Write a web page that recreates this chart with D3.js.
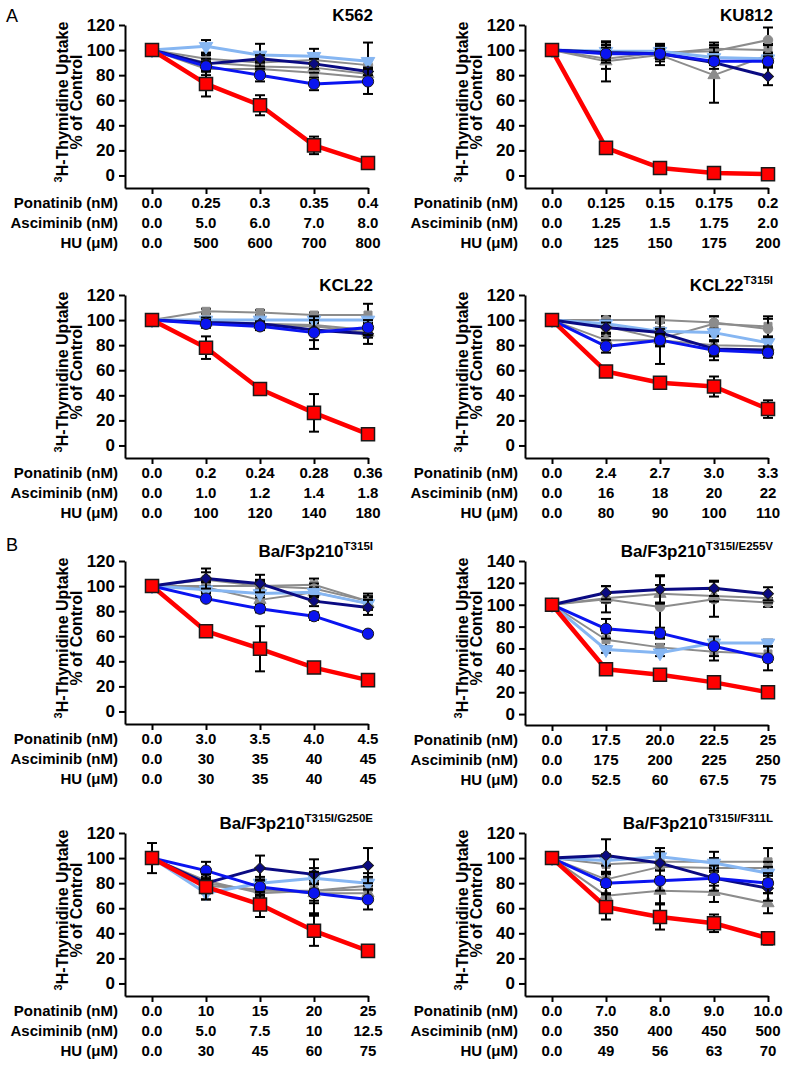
<!DOCTYPE html>
<html>
<head>
  <meta charset="UTF-8">
  <title>Thymidine uptake</title>
  <script src="https://d3js.org/d3.v7.min.js"></script>
  <style>
    body { margin: 0; background: white; }
    svg { font-family: "Liberation Sans", Arial, sans-serif; }
    .axis path, .axis line { stroke: black; stroke-width: 2px; }
    .axis text { font-size: 17px; font-weight: bold; fill: black; }
    .row-label, .dose { font-size: 15px; font-weight: bold; }
  </style>
</head>
<body>
  <svg></svg>
  <script>
    // series order = drawing order (grey combos first, red triple combo last)
    const seriesNames = ["Ponatinib + Asciminib", "Ponatinib + HU", "Asciminib + HU",
                         "HU", "Asciminib", "Ponatinib", "Ponatinib + Asciminib + HU"];
    const rowLabels = ["Ponatinib (nM)", "Asciminib (nM)", "HU (μM)"];

    // K562
    const k562Doses = [["0.0","0.25","0.3","0.35","0.4"], ["0.0","5.0","6.0","7.0","8.0"], ["0.0","500","600","700","800"]];
    const k562Mean = [[100,85,85,82,78],[100,93,90,92,88],[100,90,87,86,81],[100,103,96,95,91],[100,89,93,89,83],[100,87,80,73,75],[100,73,56,24,10]];
    const k562Err  = [[0,5,4,6,4],[0,4,5,5,5],[0,6,4,4,4],[0,5,9,6,15],[0,4,3,4,3],[0,4,5,5,10],[0,10,8,7,2]];

    // KU812
    const ku812Doses = [["0.0","0.125","0.15","0.175","0.2"], ["0.0","1.25","1.5","1.75","2.0"], ["0.0","125","150","175","200"]];
    const ku812Mean = [[100,98,97,101,100],[100,93,98,99,108],[100,91,96,80,96],[100,99,99,94,93],[100,98,97,90,79],[100,97,97,91,91],[100,22,6,2,1]];
    const ku812Err  = [[0,6,6,5,5],[0,8,5,5,10],[0,16,8,22,8],[0,5,6,4,4],[0,8,3,5,7],[0,5,4,3,4],[0,2,1,1,1]];

    // KCL22
    const kcl22Doses = [["0.0","0.2","0.24","0.28","0.36"], ["0.0","1.0","1.2","1.4","1.8"], ["0.0","100","120","140","180"]];
    const kcl22Mean = [[100,107,106,104,104],[100,99,97,96,92],[100,98,96,95,90],[100,100,100,100,100],[100,98,97,92,89],[100,97,95,90,94],[100,78,45,26,9]];
    const kcl22Err  = [[0,2,2,2,9],[0,3,3,3,5],[0,3,3,3,4],[0,2,2,2,2],[0,4,2,8,8],[0,3,3,13,6],[0,9,2,15,1]];

    // KCL22 T315I
    const kclMutDoses = [["0.0","2.4","2.7","3.0","3.3"], ["0.0","16","18","20","22"], ["0.0","80","90","100","110"]];
    const kclMutMean = [[100,95,85,97,95],[100,100,100,98,93],[100,84,84,80,79],[100,97,91,90,82],[100,94,90,77,76],[100,79,84,76,74],[100,59,50,47,29]];
    const kclMutErr  = [[0,8,5,6,8],[0,3,2,5,8],[0,5,19,8,5],[0,3,3,3,4],[0,4,3,6,3],[0,5,5,8,4],[0,4,2,8,7]];

    // Ba/F3p210 T315I
    const t315iDoses = [["0.0","3.0","3.5","4.0","4.5"], ["0.0","30","35","40","45"], ["0.0","30","35","40","45"]];
    const t315iMean = [[100,105,100,101,88],[100,100,100,98,88],[100,99,89,95,86],[100,97,94,95,86],[100,106,102,88,83],[100,90,82,76,62],[100,64,50,35,25]];
    const t315iErr  = [[0,6,5,5,6],[0,4,4,4,4],[0,4,4,4,5],[0,3,3,3,3],[0,8,7,4,6],[0,2,3,3,2],[0,4,18,4,3]];

    // Ba/F3p210 T315I/E255V
    const e255vDoses = [["0.0","17.5","20.0","22.5","25"], ["0.0","175","200","225","250"], ["0.0","52.5","60","67.5","75"]];
    const e255vMean = [[100,68,61,57,55],[100,105,98,105,102],[100,106,110,108,106],[100,59,56,65,65],[100,111,114,115,110],[100,78,74,62,51],[100,41,36,29,20]];
    const e255vErr  = [[0,6,3,8,7],[0,12,28,16,4],[0,4,8,5,4],[0,3,3,3,3],[0,6,13,7,6],[0,9,5,9,11],[0,5,1,1,1]];

    // Ba/F3p210 T315I/G250E
    const g250eDoses = [["0.0","10","15","20","25"], ["0.0","5.0","7.5","10","12.5"], ["0.0","30","45","60","75"]];
    const g250eMean = [[100,80,74,74,78],[100,82,72,74,75],[100,78,75,72,72],[100,72,80,84,80],[100,80,92,87,94],[100,90,77,72,67],[100,77,63,42,26]];
    const g250eErr  = [[0,5,5,8,10],[0,6,6,18,8],[0,6,5,8,6],[0,5,5,5,5],[0,8,10,12,14],[0,7,6,17,8],[12,10,10,12,2]];

    // Ba/F3p210 T315I/F311L
    const f311lDoses = [["0.0","7.0","8.0","9.0","10.0"], ["0.0","350","400","450","500"], ["0.0","49","56","63","70"]];
    const f311lMean = [[100,95,97,97,97],[100,83,93,92,92],[100,70,74,73,64],[100,98,101,96,88],[100,102,96,84,76],[100,80,82,84,80],[100,61,53,48,36]];
    const f311lErr  = [[0,8,6,8,11],[0,6,8,6,5],[0,8,10,8,8],[0,4,4,4,5],[0,13,12,10,10],[0,8,8,6,8],[3,10,10,7,5]];

    const yMaxes = [120, 120, 120, 120, 120, 140, 120, 120];

    // styling per series
    const colors = ["#8c8c8c", "#8c8c8c", "#8c8c8c", "#86b6f2", "#0a0a82", "#0a14f0", "#ff0000"];
    const shapes = ["square", "circle", "triangle", "triangleDown", "diamond", "circle", "square"];
    const sizes  = [64, 70, 64, 80, 60, 100, 170];
    const lineW  = [2, 2, 2, 3, 3, 3, 4.5];

    const panels = [
      { title: "K562", sup: "", doses: k562Doses, mean: k562Mean, err: k562Err },
      { title: "KU812", sup: "", doses: ku812Doses, mean: ku812Mean, err: ku812Err },
      { title: "KCL22", sup: "", doses: kcl22Doses, mean: kcl22Mean, err: kcl22Err },
      { title: "KCL22", sup: "T315I", doses: kclMutDoses, mean: kclMutMean, err: kclMutErr },
      { title: "Ba/F3p210", sup: "T315I", doses: t315iDoses, mean: t315iMean, err: t315iErr },
      { title: "Ba/F3p210", sup: "T315I/E255V", doses: e255vDoses, mean: e255vMean, err: e255vErr },
      { title: "Ba/F3p210", sup: "T315I/G250E", doses: g250eDoses, mean: g250eMean, err: g250eErr },
      { title: "Ba/F3p210", sup: "T315I/F311L", doses: f311lDoses, mean: f311lMean, err: f311lErr }
    ];
    panels.forEach((p, i) => p.yMax = yMaxes[i]);

    const colX = [125, 525];
    const rowY = [25, 295, 561, 833];

    const svg = d3.select("svg").attr("width", 794).attr("height", 1065);

    svg.append("text").attr("x", 6).attr("y", 22).style("font-size", "18px").text("A");
    svg.append("text").attr("x", 6).attr("y", 551).style("font-size", "18px").text("B");

    function symbolFor(shape, size) {
      if (shape === "square" || shape === "diamond") return d3.symbol(d3.symbolSquare, size)();
      if (shape === "circle") return d3.symbol(d3.symbolCircle, size)();
      return d3.symbol(d3.symbolTriangle, size)();
    }

    panels.forEach((p, pi) => {
      const ox = colX[pi % 2], oy = rowY[Math.floor(pi / 2)];
      const g = svg.append("g").attr("transform", `translate(${ox},${oy})`);
      const h = p.yMax === 140 ? 164 : 163;

      const x = d3.scaleLinear().domain([-0.5, 4]).range([0, 243]);
      const y = d3.scaleLinear().domain([-10, p.yMax]).range([h, 0]);

      g.append("g").attr("class", "axis")
        .call(d3.axisLeft(y).tickValues(d3.range(0, p.yMax + 1, 20)).tickSize(6).tickSizeOuter(0).tickPadding(4));
      g.append("g").attr("class", "axis").attr("transform", `translate(0,${h})`)
        .call(d3.axisBottom(x).tickValues([0, 1, 2, 3, 4]).tickSize(6).tickSizeOuter(0).tickFormat(""));

      // y axis title
      const yt = g.append("g").attr("transform", `translate(-57,${77})rotate(-90)`)
        .attr("text-anchor", "middle").style("font-size", "16px").style("font-weight", "bold");
      const l1 = yt.append("text").attr("y", 0);
      l1.append("tspan").attr("dy", -6).style("font-size", "11px").text("3");
      l1.append("tspan").attr("dy", 6).text("H-Thymidine Uptake");
      yt.append("text").attr("y", 14).text("% of Control");

      // title
      const t = g.append("text").attr("x", 248).attr("y", -4).attr("text-anchor", "end")
        .style("font-size", "17px").style("font-weight", "bold");
      t.append("tspan").text(p.title);
      if (p.sup) t.append("tspan").attr("dy", -7).style("font-size", "11.5px").text(p.sup);

      // dose rows
      rowLabels.forEach((lab, ri) => {
        const by = h + 20 + ri * 20;
        g.append("text").attr("class", "row-label").attr("x", -7).attr("y", by)
          .attr("text-anchor", "end").text(lab);
        g.selectAll(null).data(p.doses[ri]).enter().append("text")
          .attr("class", "dose").attr("x", (d, i) => x(i)).attr("y", by)
          .attr("text-anchor", "middle").text(d => d);
      });

      const line = d3.line().x((d, i) => x(i)).y(d => y(d));

      p.mean.forEach((vals, si) => {
        const sg = g.append("g");
        sg.append("path").datum(vals).attr("d", line)
          .attr("fill", "none").attr("stroke", colors[si]).attr("stroke-width", lineW[si])
          .attr("stroke-linejoin", "round");

        const errs = vals.map((v, i) => ({ i, v, e: p.err[si][i] })).filter(d => d.e > 0);
        const eb = sg.selectAll(null).data(errs).enter().append("g").attr("stroke", "black").attr("stroke-width", 2);
        eb.append("line").attr("x1", d => x(d.i)).attr("x2", d => x(d.i))
          .attr("y1", d => y(d.v - d.e)).attr("y2", d => y(d.v + d.e));
        eb.append("line").attr("x1", d => x(d.i) - 5).attr("x2", d => x(d.i) + 5)
          .attr("y1", d => y(d.v + d.e)).attr("y2", d => y(d.v + d.e));
        eb.append("line").attr("x1", d => x(d.i) - 5).attr("x2", d => x(d.i) + 5)
          .attr("y1", d => y(d.v - d.e)).attr("y2", d => y(d.v - d.e));

        const shape = shapes[si];
        const rot = shape === "diamond" ? 45 : shape === "triangleDown" ? 180 : 0;
        sg.selectAll(null).data(vals).enter().append("path")
          .attr("d", symbolFor(shape, sizes[si]))
          .attr("transform", (d, i) => `translate(${x(i)},${y(d)})rotate(${rot})`)
          .attr("fill", colors[si])
          .attr("stroke", si === 6 || si === 5 || si === 4 ? "#1a1a1a" : colors[si])
          .attr("stroke-width", si === 6 ? 1.5 : 1);
      });
    });
  </script>
</body>
</html>
